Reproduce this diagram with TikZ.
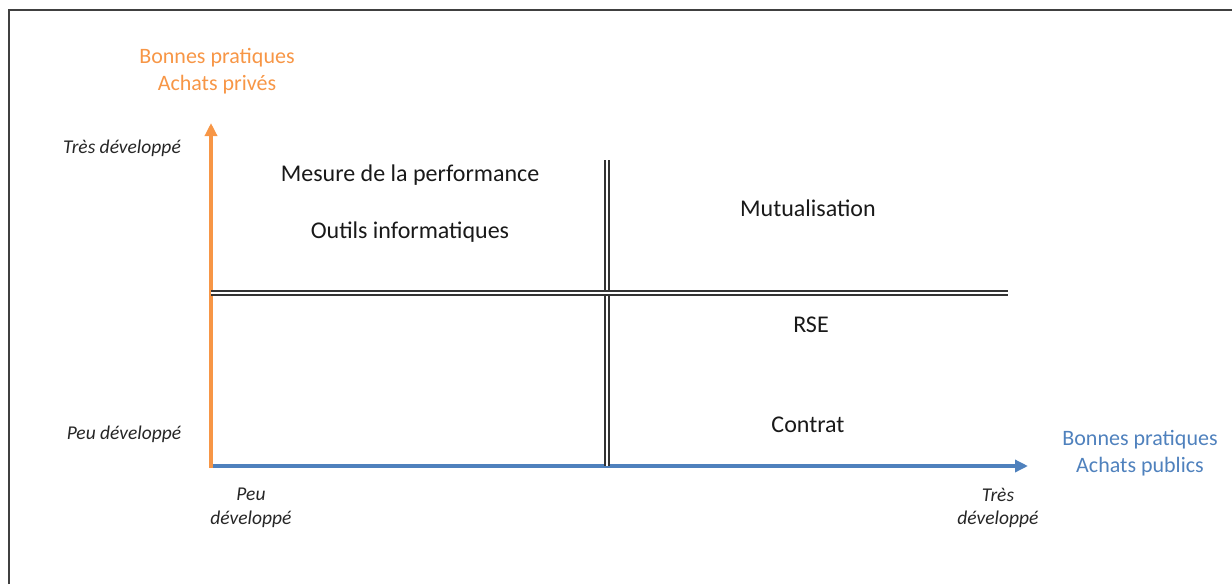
\documentclass[tikz,border=0pt]{standalone}
\usepackage{fontspec}
\setmainfont{Carlito}
\usepackage{tikz}
\usetikzlibrary{arrows.meta}
\definecolor{prive}{RGB}{247,150,70}
\definecolor{public}{RGB}{79,129,189}
\tikzset{/QM/axe/.style={
	line width=4pt, -{Triangle[length=13pt,width=12pt]}
}}
\tikzset{/QM/sep/.style={
	draw=black!80, line width=2.1pt, double=white, double distance=1.8pt
}}
\tikzset{/QM/niveau/.style={
	font=\fontsize{19.5}{23.5}\selectfont\itshape, align=center, text=black!85
}}
\tikzset{/QM/titre/.style={
	font=\fontsize{22}{27.5}\selectfont, align=center
}}
\tikzset{/QM/item/.style={
	font=\fontsize{24}{28}\selectfont, text=black!90
}}

\begin{document}
\begin{tikzpicture}[x=1pt, y=-1pt]
			\useasboundingbox (0,0) rectangle (1232,584);
			\draw[black!75, line width=1.5pt] (9,584) -- (9,10) -- (1232,10);
			% axes
			\path coordinate (O) at (211,466)
				coordinate (Yhaut) at (211,123)
				coordinate (Xfin) at (1028,466);
			\draw[/QM/axe, public] (O) -- (Xfin);
			\draw[/QM/axe, prive] ([yshift=-2pt]O) -- (Yhaut);
			% quadrants
			\path coordinate (Hg) at (211,293) coordinate (Hd) at (1008,293);
			\path coordinate (Vh) at (607,160) coordinate (Vb) at (607,466);
			\draw[/QM/sep] (Vh) -- (Vb);
			\draw[/QM/sep] (Hg) -- (Hd);
			% titres des axes
			\path (217,71) node[/QM/titre, text=prive] (Tprive) {Bonnes pratiques\\Achats priv\'es};
			\path (1140,453) node[/QM/titre, text=public] (Tpublic) {Bonnes pratiques\\Achats publics};
			% niveaux
			\path (122,148) node[/QM/niveau] (YTres) {Tr\`es d\'evelopp\'e};
			\path (124,434) node[/QM/niveau] (YPeu) {Peu d\'evelopp\'e};
			\path (251,508) node[/QM/niveau] (XPeu) {Peu\\d\'evelopp\'e};
			\path (998,508) node[/QM/niveau] (XTres) {Tr\`es\\d\'evelopp\'e};
			% pratiques
			\path (410,175) node[/QM/item] (perf) {Mesure de la performance};
			\path (410,232) node[/QM/item] (outils) {Outils informatiques};
			\path (808,208) node[/QM/item] (mutu) {Mutualisation};
			\path (811,325) node[/QM/item] (rse) {RSE};
			\path (808,425) node[/QM/item] (contrat) {Contrat};
		\end{tikzpicture}
\end{document}
